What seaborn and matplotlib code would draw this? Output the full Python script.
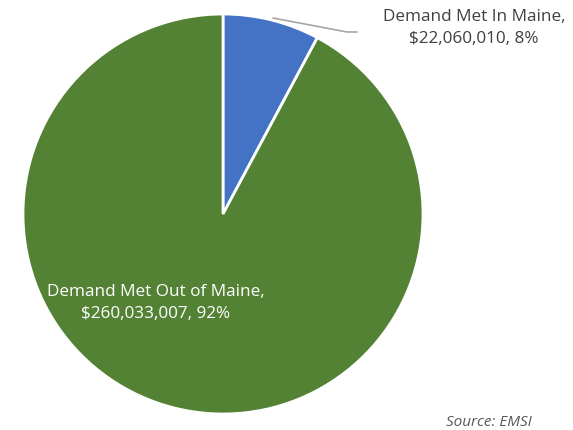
import matplotlib
matplotlib.use("Agg")
import matplotlib.pyplot as plt
import seaborn as sns

# data
labels = ["Demand Met In Maine", "Demand Met Out of Maine"]
values = [22060010, 260033007]
percents = [8, 92]
colors = ["#4472C4", "#548235"]

sns.set_theme(style="white")
plt.rcParams['font.family'] = ['Open Sans', 'DejaVu Sans']

fig = plt.figure(figsize=(5.73, 4.31), dpi=100)
ax = fig.add_axes([0, 0, 1, 1])

ax.pie(values, colors=colors, startangle=90, counterclock=False,
       center=(223, 216), radius=200, frame=True,
       wedgeprops=dict(edgecolor='white', linewidth=2))
ax.set_xlim(0, 573)
ax.set_ylim(0, 431)
ax.set_aspect('equal')
ax.axis('off')

def fmt(v, p):
    return f"${v:,}, {p}%"

# leader line for the small slice
ax.plot([273, 347, 357], [431 - 19, 431 - 33, 431 - 33], color='#A6A6A6', lw=1.2)
ax.text(474, 431 - 28, f"{labels[0]},\n{fmt(values[0], percents[0])}",
        ha='center', va='center', fontsize=12.3, color='#404040', linespacing=1.5)
ax.text(156, 431 - 303, f"{labels[1]},\n{fmt(values[1], percents[1])}",
        ha='center', va='center', fontsize=12.3, color='white', linespacing=1.5)

ax.text(532, 431 - 423, "Source: EMSI", ha='right', va='center',
        fontsize=11, style='italic', color='#595959')

fig.savefig('out.png', dpi=100)
